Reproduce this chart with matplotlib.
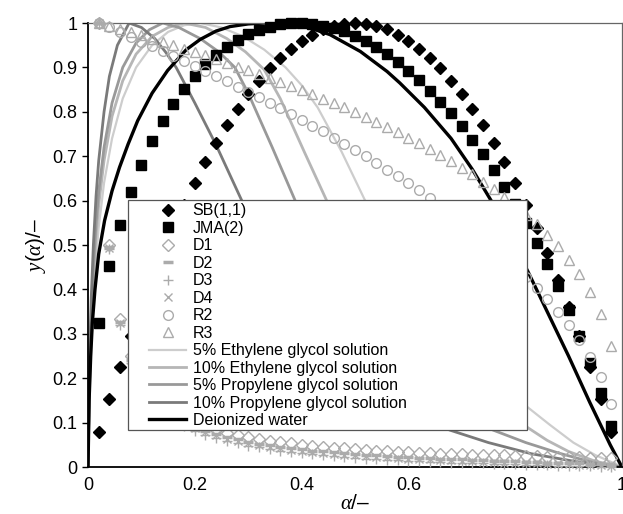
import matplotlib
matplotlib.use('Agg')
import matplotlib.pyplot as plt
from matplotlib.patches import Rectangle

plt.rcParams['font.family'] = ['Liberation Sans', 'DejaVu Sans']
plt.rcParams['mathtext.fontset'] = 'custom'
plt.rcParams['mathtext.it'] = 'Liberation Serif:italic'
plt.rcParams['mathtext.rm'] = 'Liberation Sans'

# conversion points of the kinetic model curves
alpha_pts = [0.02, 0.04, 0.06, 0.08, 0.10, 0.12, 0.14, 0.16, 0.18, 0.20,
             0.22, 0.24, 0.26, 0.28, 0.30, 0.32, 0.34, 0.36, 0.38, 0.40,
             0.42, 0.44, 0.46, 0.48, 0.50, 0.52, 0.54, 0.56, 0.58, 0.60,
             0.62, 0.64, 0.66, 0.68, 0.70, 0.72, 0.74, 0.76, 0.78, 0.80,
             0.82, 0.84, 0.86, 0.88, 0.90, 0.92, 0.94, 0.96, 0.98]

sb11 = [0.078, 0.154, 0.226, 0.294, 0.360, 0.422, 0.482, 0.538, 0.590, 0.640,
        0.686, 0.730, 0.770, 0.806, 0.840, 0.870, 0.898, 0.922, 0.942, 0.960,
        0.974, 0.986, 0.994, 0.998, 1.000, 0.998, 0.994, 0.986, 0.974, 0.960,
        0.942, 0.922, 0.898, 0.870, 0.840, 0.806, 0.770, 0.730, 0.686, 0.640,
        0.590, 0.538, 0.482, 0.422, 0.360, 0.294, 0.226, 0.154, 0.078]
jma2 = [0.325, 0.452, 0.545, 0.619, 0.681, 0.734, 0.779, 0.818, 0.852, 0.881,
        0.907, 0.928, 0.947, 0.962, 0.975, 0.985, 0.992, 0.997, 0.999, 1.000,
        0.998, 0.994, 0.988, 0.981, 0.971, 0.959, 0.945, 0.930, 0.912, 0.893,
        0.872, 0.848, 0.823, 0.797, 0.768, 0.737, 0.704, 0.669, 0.631, 0.592,
        0.550, 0.505, 0.458, 0.407, 0.354, 0.296, 0.235, 0.167, 0.092]
d1 = [1.000, 0.500, 0.333, 0.250, 0.200, 0.167, 0.143, 0.125, 0.111, 0.100,
      0.091, 0.083, 0.077, 0.071, 0.067, 0.063, 0.059, 0.056, 0.053, 0.050,
      0.048, 0.045, 0.043, 0.042, 0.040, 0.038, 0.037, 0.036, 0.034, 0.033,
      0.032, 0.031, 0.030, 0.029, 0.029, 0.028, 0.027, 0.026, 0.026, 0.025,
      0.024, 0.024, 0.023, 0.023, 0.022, 0.022, 0.021, 0.021, 0.020]
d2 = [1.000, 0.495, 0.327, 0.242, 0.192, 0.158, 0.134, 0.116, 0.102, 0.091,
      0.081, 0.074, 0.067, 0.062, 0.057, 0.052, 0.049, 0.045, 0.042, 0.040,
      0.037, 0.035, 0.033, 0.031, 0.029, 0.028, 0.026, 0.025, 0.023, 0.022,
      0.021, 0.020, 0.019, 0.018, 0.017, 0.016, 0.015, 0.014, 0.013, 0.013,
      0.012, 0.011, 0.010, 0.010, 0.009, 0.008, 0.007, 0.006, 0.005]
d3 = [1.000, 0.490, 0.320, 0.235, 0.184, 0.150, 0.126, 0.107, 0.093, 0.082,
      0.073, 0.065, 0.058, 0.053, 0.048, 0.044, 0.040, 0.037, 0.034, 0.031,
      0.029, 0.026, 0.024, 0.023, 0.021, 0.019, 0.018, 0.016, 0.015, 0.014,
      0.013, 0.012, 0.011, 0.010, 0.009, 0.008, 0.008, 0.007, 0.006, 0.006,
      0.005, 0.004, 0.004, 0.003, 0.003, 0.002, 0.002, 0.001, 0.001]
d4 = [1.000, 0.493, 0.324, 0.240, 0.189, 0.155, 0.131, 0.113, 0.099, 0.088,
      0.078, 0.071, 0.064, 0.058, 0.054, 0.049, 0.046, 0.042, 0.039, 0.036,
      0.034, 0.032, 0.030, 0.028, 0.026, 0.024, 0.023, 0.022, 0.020, 0.019,
      0.018, 0.017, 0.016, 0.015, 0.014, 0.013, 0.012, 0.011, 0.010, 0.010,
      0.009, 0.008, 0.007, 0.007, 0.006, 0.005, 0.004, 0.004, 0.003]
r2 = [1.000, 0.990, 0.979, 0.969, 0.958, 0.948, 0.937, 0.926, 0.915, 0.904,
      0.892, 0.881, 0.869, 0.857, 0.845, 0.833, 0.821, 0.808, 0.795, 0.782,
      0.769, 0.756, 0.742, 0.728, 0.714, 0.700, 0.685, 0.670, 0.655, 0.639,
      0.623, 0.606, 0.589, 0.571, 0.553, 0.535, 0.515, 0.495, 0.474, 0.452,
      0.429, 0.404, 0.378, 0.350, 0.319, 0.286, 0.247, 0.202, 0.143]
r3 = [1.000, 0.993, 0.986, 0.979, 0.972, 0.965, 0.957, 0.950, 0.942, 0.935,
      0.927, 0.919, 0.911, 0.902, 0.894, 0.885, 0.877, 0.868, 0.858, 0.849,
      0.840, 0.830, 0.820, 0.810, 0.799, 0.788, 0.777, 0.766, 0.754, 0.742,
      0.729, 0.716, 0.703, 0.689, 0.674, 0.659, 0.643, 0.626, 0.608, 0.589,
      0.568, 0.547, 0.523, 0.497, 0.467, 0.434, 0.394, 0.344, 0.273]

# measured curves
eg5_a = [0, 0.003, 0.006, 0.01, 0.015, 0.02, 0.03, 0.045, 0.065, 0.09, 0.12, 0.15,
         0.18, 0.21, 0.25, 0.29, 0.33, 0.37, 0.40, 0.43, 0.475, 0.519, 0.57, 0.63,
         0.69, 0.75, 0.822, 0.865, 0.909, 0.95, 0.99, 1.0]
eg5_y = [0, 0.17, 0.27, 0.37, 0.47, 0.54, 0.64, 0.74, 0.83, 0.90, 0.95, 0.98,
         0.995, 1.0, 0.99, 0.97, 0.94, 0.90, 0.86, 0.81, 0.71, 0.60, 0.49, 0.38,
         0.29, 0.215, 0.136, 0.095, 0.055, 0.027, 0.006, 0]
eg10_a = [0, 0.003, 0.006, 0.01, 0.015, 0.02, 0.03, 0.045, 0.065, 0.09, 0.12, 0.15,
          0.18, 0.22, 0.26, 0.295, 0.33, 0.36, 0.405, 0.447, 0.5, 0.56, 0.63, 0.7,
          0.76, 0.822, 0.86, 0.9, 0.95, 1.0]
eg10_y = [0, 0.20, 0.31, 0.42, 0.52, 0.59, 0.69, 0.79, 0.87, 0.93, 0.97, 0.99,
          1.0, 0.99, 0.965, 0.935, 0.895, 0.83, 0.71, 0.60, 0.48, 0.37, 0.27, 0.19,
          0.135, 0.09, 0.06, 0.035, 0.013, 0]
pg5_a = [0, 0.003, 0.006, 0.01, 0.015, 0.02, 0.03, 0.045, 0.065, 0.09, 0.115, 0.14,
         0.17, 0.21, 0.245, 0.275, 0.3, 0.345, 0.388, 0.44, 0.5, 0.57, 0.64, 0.7,
         0.759, 0.82, 0.88, 0.94, 0.97, 1.0]
pg5_y = [0, 0.22, 0.34, 0.45, 0.55, 0.62, 0.72, 0.82, 0.90, 0.955, 0.985, 1.0,
         0.99, 0.965, 0.935, 0.90, 0.842, 0.72, 0.60, 0.47, 0.34, 0.235, 0.16, 0.115,
         0.083, 0.055, 0.032, 0.012, 0.005, 0]
pg10_a = [0, 0.003, 0.006, 0.01, 0.015, 0.02, 0.03, 0.04, 0.055, 0.077, 0.1, 0.125,
          0.145, 0.165, 0.2, 0.24, 0.288, 0.34, 0.4, 0.47, 0.55, 0.62, 0.678, 0.75,
          0.83, 0.91, 0.96, 1.0]
pg10_y = [0, 0.25, 0.38, 0.50, 0.61, 0.69, 0.80, 0.88, 0.95, 1.0, 0.99, 0.965,
          0.935, 0.90, 0.82, 0.725, 0.60, 0.47, 0.34, 0.23, 0.15, 0.11, 0.083, 0.055,
          0.03, 0.013, 0.005, 0]
dw_a = [0, 0.002, 0.005, 0.008, 0.013, 0.02, 0.031, 0.045, 0.059, 0.075, 0.093, 0.12,
        0.149, 0.184, 0.21, 0.24, 0.266, 0.3, 0.33, 0.36, 0.4, 0.453, 0.51, 0.56,
        0.584, 0.63, 0.68, 0.72, 0.755, 0.79, 0.824, 0.86, 0.9, 0.94, 0.978, 1.0]
dw_y = [0, 0.15, 0.25, 0.324, 0.40, 0.48, 0.555, 0.622, 0.675, 0.727, 0.78, 0.842,
        0.893, 0.94, 0.963, 0.982, 0.992, 0.998, 1.0, 1.0, 0.995, 0.974, 0.936, 0.891,
        0.865, 0.81, 0.74, 0.67, 0.60, 0.52, 0.44, 0.35, 0.25, 0.145, 0.05, 0]

y_ticks = [0, 0.1, 0.2, 0.3, 0.4, 0.5, 0.6, 0.7, 0.8, 0.9, 1]
y_ticklabels = ['0', '0.1', '0.2', '0.3', '0.4', '0.5', '0.6', '0.7', '0.8', '0.9', '1']
x_ticks = [0, 0.2, 0.4, 0.6, 0.8, 1]
x_ticklabels = ['0', '0.2', '0.4', '0.6', '0.8', '1']

fig = plt.figure(figsize=(6.23, 5.14), dpi=100)
ax = fig.add_axes([0.1413, 0.0914, 0.857, 0.8638])

mk_gray = '#ababab'
ms_kw = dict(linestyle='none', clip_on=False, zorder=3)

# model markers
ax.plot(alpha_pts, sb11, marker='D', ms=6, color='black', label='SB(1,1)', **ms_kw)
ax.plot(alpha_pts, jma2, marker='s', ms=7, color='black', label='JMA(2)', **ms_kw)
ax.plot(alpha_pts, d1, marker='D', ms=6, mfc='none', mec=mk_gray, mew=1, label='D1', **ms_kw)
ax.plot(alpha_pts, d2, marker='_', ms=7, mec=mk_gray, mew=2.5, label='D2', **ms_kw)
ax.plot(alpha_pts, d3, marker='+', ms=7, mec=mk_gray, mew=1, label='D3', **ms_kw)
ax.plot(alpha_pts, d4, marker='x', ms=6, mec=mk_gray, mew=1, label='D4', **ms_kw)
ax.plot(alpha_pts, r2, marker='o', ms=7, mfc='none', mec=mk_gray, mew=1, label='R2', **ms_kw)
ax.plot(alpha_pts, r3, marker='^', ms=7, mfc='none', mec=mk_gray, mew=1, label='R3', **ms_kw)

# measured curves
ax.plot(eg5_a, eg5_y, color='#cdcdcd', lw=1.6, zorder=2, label='5% Ethylene glycol solution')
ax.plot(eg10_a, eg10_y, color='#b6b6b6', lw=2.0, zorder=2, label='10% Ethylene glycol solution')
ax.plot(pg5_a, pg5_y, color='#999999', lw=2.0, zorder=2, label='5% Propylene glycol solution')
ax.plot(pg10_a, pg10_y, color='#7a7a7a', lw=2.0, zorder=2, label='10% Propylene glycol solution')
ax.plot(dw_a, dw_y, color='black', lw=2.4, zorder=2, label='Deionized water')

ax.set_xlim(0, 1)
ax.set_ylim(0, 1)
ax.set_xticks(x_ticks)
ax.set_xticklabels(x_ticklabels)
ax.set_yticks(y_ticks)
ax.set_yticklabels(y_ticklabels)
ax.tick_params(axis='both', direction='out', labelsize=13, length=4, width=1)
ax.tick_params(axis='x', length=0, pad=7)

for side in ['left', 'bottom']:
    ax.spines[side].set_linewidth(1.3)
for side in ['top', 'right']:
    ax.spines[side].set_color('#666666')
    ax.spines[side].set_linewidth(0.9)

ax.set_xlabel(r'$\alpha$/–', fontsize=15, labelpad=0)
ax.set_ylabel(r'$y$($\alpha$)/–', fontsize=15, labelpad=3)

# legend box drawn by hand so its size matches the original
frame = Rectangle((0.075, 0.083), 0.747, 0.518, transform=ax.transAxes,
                  facecolor='white', edgecolor='#555555', lw=0.9, zorder=4)
ax.add_patch(frame)
leg = ax.legend(loc='upper left', bbox_to_anchor=(0.115, 0.594), frameon=False,
                fontsize=11.5, labelspacing=0.155, handlelength=2.3, handletextpad=0.4,
                borderpad=0, borderaxespad=0)
leg.set_zorder(5)

fig.savefig('out.png', dpi=100)
